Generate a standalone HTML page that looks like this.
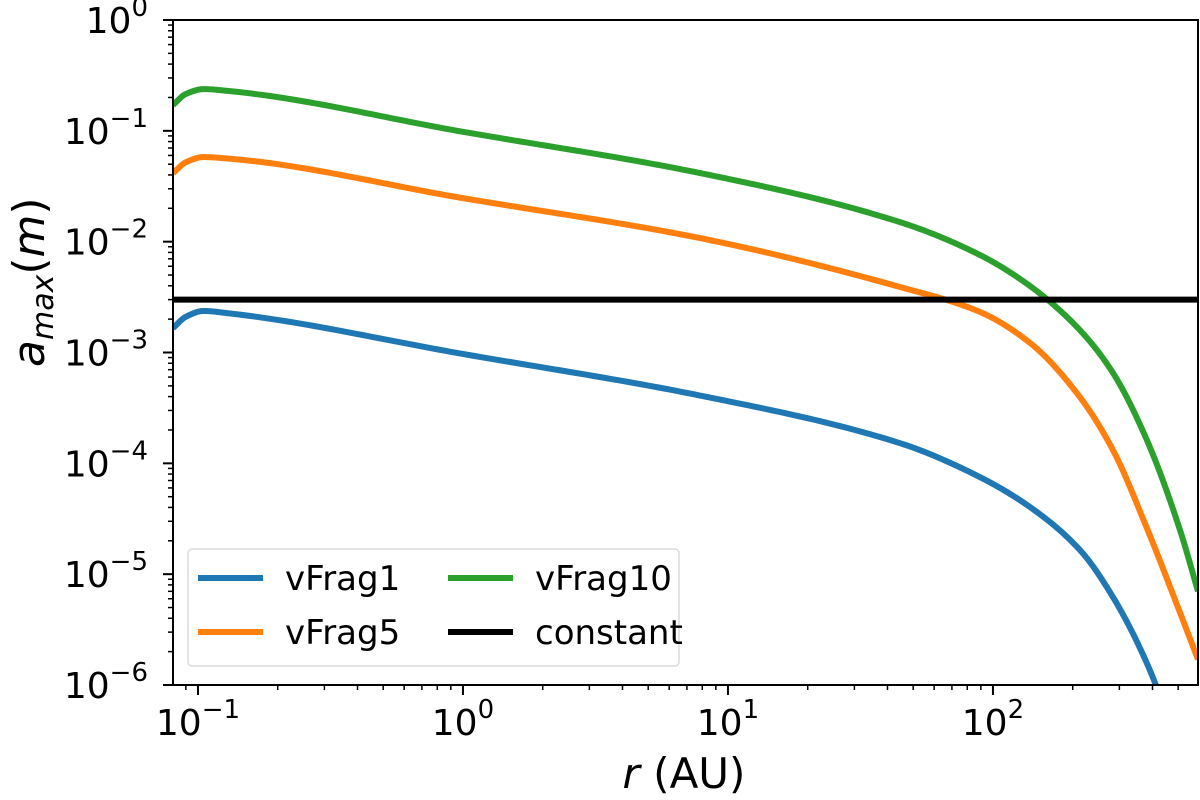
<!DOCTYPE html>
<html><head><meta charset="utf-8"><style>
html,body{margin:0;padding:0;background:#fff;}
svg{display:block;font-family:"DejaVu Sans","Liberation Sans",sans-serif;}
</style></head><body>
<svg id="chart" width="1200" height="800" viewBox="0 0 1200 800" xmlns="http://www.w3.org/2000/svg">
<g id="plot"></g>
<g id="axes"></g>
<text x="684" y="788" font-size="42" text-anchor="middle"><tspan font-style="italic">r</tspan> (AU)</text>
<text transform="translate(44,367) rotate(-90)" font-size="44"><tspan font-style="italic">a</tspan><tspan font-style="italic" font-size="30" dy="9">max</tspan><tspan dy="-9">(</tspan><tspan font-style="italic">m</tspan>)</text>
<g id="legend"></g>
</svg>
<script>
const rVals = [0.0805,0.09,0.105,0.13,1,7.8,44.6,89.4,138,213,284,381,508,594];
const blueVals = [1.66e-3,2.1e-3,2.37e-3,2.26e-3,9.7e-4,4.1e-4,1.52e-4,7.5e-5,4.03e-5,1.65e-5,6.19e-6,1.57e-6,2.5e-7,8e-8];
const orangeVals = [4.15e-2,5.2e-2,5.8e-2,5.62e-2,2.47e-2,1.08e-2,3.9e-3,2.32e-3,1.22e-3,3.95e-4,1.31e-4,2.6e-5,4.5e-6,1.7e-6];
const greenVals = [0.171,0.215,0.238,0.229,0.098,0.0417,0.015,7.57e-3,3.98e-3,1.59e-3,6.52e-4,1.62e-4,2.5e-5,7.0e-6];
const constantVal = 3e-3;
const seriesNames = ["vFrag1","vFrag5","vFrag10","constant"];
const yTickExps = [0,-1,-2,-3,-4,-5,-6];
const xTickExps = [-1,0,1,2];

const L=173,R=1198,T=20,B=685;
const xMinLog=Math.log10(0.0805), xMaxLog=Math.log10(594);
const yMinLog=-6, yMaxLog=0;
const xs=v=>L+(Math.log10(v)-xMinLog)/(xMaxLog-xMinLog)*(R-L);
const ys=v=>T+(yMaxLog-Math.log10(v))/(yMaxLog-yMinLog)*(B-T);
const NS="http://www.w3.org/2000/svg";
function mk(tag,attrs,parent){const e=document.createElementNS(NS,tag);for(const k in attrs)e.setAttribute(k,attrs[k]);parent.appendChild(e);return e;}
const plot=document.getElementById('plot'), axes=document.getElementById('axes'), leg=document.getElementById('legend');

const defs=mk('defs',{},plot);
const cp=mk('clipPath',{id:'clip'},defs);
mk('rect',{x:L,y:T,width:R-L,height:B-T},cp);

function pathFor(vals){
  const X=rVals.map(Math.log10), Y=vals.map(Math.log10), n=X.length;
  const d=[],m=new Array(n);
  for(let i=0;i<n-1;i++)d.push((Y[i+1]-Y[i])/(X[i+1]-X[i]));
  m[0]=d[0];m[n-1]=d[n-2];
  for(let i=1;i<n-1;i++){
    if(d[i-1]*d[i]<=0)m[i]=0;
    else{const h0=X[i]-X[i-1],h1=X[i+1]-X[i];const w1=2*h1+h0,w2=h1+2*h0;m[i]=(w1+w2)/(w1/d[i-1]+w2/d[i]);}
  }
  let s='';
  for(let i=0;i<n-1;i++){
    const h=X[i+1]-X[i];
    for(let k=0;k<=40;k++){
      if(i>0&&k===0)continue;
      const t=k/40,t2=t*t,t3=t2*t;
      const y=(2*t3-3*t2+1)*Y[i]+(t3-2*t2+t)*h*m[i]+(-2*t3+3*t2)*Y[i+1]+(t3-t2)*h*m[i+1];
      const x=X[i]+t*h;
      const px=xs(Math.pow(10,x)),py=ys(Math.pow(10,y));
      s+=(s?'L':'M')+px.toFixed(2)+','+py.toFixed(2);
    }
  }
  return s;
}
const colors=["#1f77b4","#ff7f0e","#2ca02c","#000000"];
const g=mk('g',{'clip-path':'url(#clip)'},plot);
let el;
el=mk('path',{d:pathFor(blueVals),fill:'none',stroke:colors[0],'stroke-width':6,'stroke-linejoin':'round'},g);


el=mk('path',{d:pathFor(orangeVals),fill:'none',stroke:colors[1],'stroke-width':6,'stroke-linejoin':'round'},g);


el=mk('path',{d:pathFor(greenVals),fill:'none',stroke:colors[2],'stroke-width':6,'stroke-linejoin':'round'},g);


el=mk('line',{x1:L,x2:R,y1:ys(constantVal),y2:ys(constantVal),stroke:'#000','stroke-width':6},g);



el=mk('rect',{x:L,y:T,width:R-L,height:B-T,fill:'none',stroke:'#000','stroke-width':2},axes);



for(let e=-6;e<=0;e++){
  const y=ys(Math.pow(10,e));
  mk('line',{x1:L-10,x2:L,y1:y,y2:y,stroke:'#000','stroke-width':2},axes);
  if(e<0)for(let m=2;m<=9;m++){const yy=ys(m*Math.pow(10,e));mk('line',{x1:L-5,x2:L,y1:yy,y2:yy,stroke:'#000','stroke-width':1.5},axes);}
}
yTickExps.forEach(e=>{
  const y=ys(Math.pow(10,e));
  const t=mk('text',{x:148,y:y+13,'font-size':36,'text-anchor':'end'},axes);
  
  
  t.innerHTML=`10<tspan font-size="26" dy="-17">${e<0?'\u2212'+(-e):e}</tspan>`;
});
for(let e=-2;e<=2;e++){
  for(let m=1;m<=9;m++){
    const v=m*Math.pow(10,e);
    if(v<0.0805||v>594)continue;
    const x=xs(v);
    mk('line',{x1:x,x2:x,y1:B,y2:B+(m===1?10:5),stroke:'#000','stroke-width':m===1?2:1.5},axes);
  }
}
xTickExps.forEach(e=>{
  const x=xs(Math.pow(10,e));
  const t=mk('text',{x:x,y:735,'font-size':36,'text-anchor':'middle'},axes);
  
  
  t.innerHTML=`10<tspan font-size="26" dy="-17">${e<0?'\u2212'+(-e):e}</tspan>`;
});

el=mk('rect',{x:188,y:549,width:491,height:117,rx:4,fill:'#fff',stroke:'#dcdcdc','stroke-width':1.5,'fill-opacity':0.8},leg);


const pos=[[198,578],[198,632],[448,578],[448,632]];
[0,1,2,3].forEach((si,i)=>{
  const [x,y]=pos[i];
  const gg=mk('g',{},leg);
  
  
  mk('line',{x1:x,x2:x+65,y1:y,y2:y,stroke:colors[si],'stroke-width':6},gg);
  const t=mk('text',{x:x+87,y:y+12,'font-size':34},gg);
  t.textContent=seriesNames[si];
});
</script>
</body></html>
